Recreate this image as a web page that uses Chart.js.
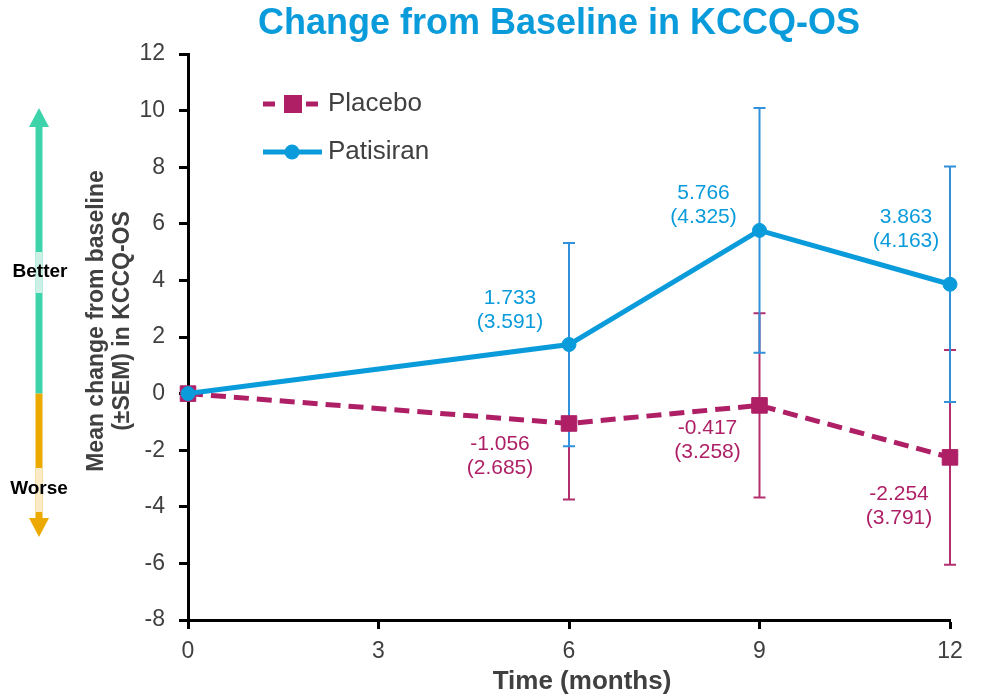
<!DOCTYPE html>
<html>
<head>
<meta charset="utf-8">
<title>Change from Baseline in KCCQ-OS</title>
<script src="https://cdn.jsdelivr.net/npm/chart.js@4.4.1/dist/chart.umd.min.js"></script>
<style>
  html, body { margin: 0; padding: 0; background: #fff; }
  #wrap { width: 986px; height: 698px; }
</style>
</head>
<body>
<div id="wrap"><canvas id="kccq-chart" width="986" height="698"></canvas></div>
<script>
// Values
const months = [0, 6, 9, 12];
const placeboMean = [0, -1.056, -0.417, -2.254];
const placeboSem = [0, 2.685, 3.258, 3.791];
const patisiranMean = [0, 1.733, 5.766, 3.863];
const patisiranSem = [0, 3.591, 4.325, 4.163];
const xTickValues = [0, 3, 6, 9, 12];
const yTickValues = [-8, -6, -4, -2, 0, 2, 4, 6, 8, 10, 12];

// where each value label sits, relative to its point (px)
const placeboLabelOffset = [null, [-69, 33], [-52, 35], [-51, 49]];
const patisiranLabelOffset = [null, [-59, -34], [-56, -25], [-44, -55]];

const BLUE = '#0A9BDB';
const MAGENTA = '#AE1F66';
const GREY = '#404040';
const FONT = '"Liberation Sans", Arial, sans-serif';

// error bars, drawn under the lines
const errorBars = {
  id: 'errorBars',
  beforeDatasetsDraw(chart) {
    const { ctx, scales: { x, y } } = chart;
    const sets = [
      [placeboMean, placeboSem, '#B3306F'],
      [patisiranMean, patisiranSem, '#3191DA']
    ];
    ctx.save();
    ctx.lineWidth = 2;
    sets.forEach(([mean, sem, color]) => {
      ctx.strokeStyle = color;
      months.forEach((m, i) => {
        if (!sem[i]) return;
        const px = x.getPixelForValue(m);
        const top = y.getPixelForValue(mean[i] + sem[i]);
        const bot = y.getPixelForValue(mean[i] - sem[i]);
        ctx.beginPath();
        ctx.moveTo(px, top); ctx.lineTo(px, bot);
        ctx.moveTo(px - 6, top); ctx.lineTo(px + 6, top);
        ctx.moveTo(px - 6, bot); ctx.lineTo(px + 6, bot);
        ctx.stroke();
      });
    });
    ctx.restore();
  }
};

// "mean (SEM)" labels next to points
const valueLabels = {
  id: 'valueLabels',
  afterDatasetsDraw(chart) {
    const { ctx, scales: { x, y } } = chart;
    const sets = [
      [placeboMean, placeboSem, placeboLabelOffset, MAGENTA],
      [patisiranMean, patisiranSem, patisiranLabelOffset, BLUE]
    ];
    ctx.save();
    ctx.font = '21px ' + FONT;
    ctx.textAlign = 'center';
    ctx.textBaseline = 'middle';
    sets.forEach(([mean, sem, off, color]) => {
      ctx.fillStyle = color;
      months.forEach((m, i) => {
        if (!off[i]) return;
        const cx = x.getPixelForValue(m) + off[i][0];
        const cy = y.getPixelForValue(mean[i]) + off[i][1];
        ctx.fillText(mean[i].toFixed(3), cx, cy - 12);
        ctx.fillText('(' + sem[i].toFixed(3) + ')', cx, cy + 12);
      });
    });
    ctx.restore();
  }
};

// titles, Better / Worse arrow and legend
const decorations = {
  id: 'decorations',
  afterDraw(chart) {
    const { ctx, scales: { y } } = chart;
    const y0 = y.getPixelForValue(0);
    const ax = 39;
    ctx.save();

    ctx.fillStyle = BLUE;
    ctx.font = 'bold 36px ' + FONT;
    ctx.textAlign = 'center';
    ctx.textBaseline = 'middle';
    ctx.fillText('Change from Baseline in KCCQ-OS', 559, 24);

    // x-axis title
    ctx.fillStyle = GREY;
    ctx.font = 'bold 26px ' + FONT;
    ctx.fillText('Time (months)', 582, 682);

    // arrow shaft
    ctx.fillStyle = '#3DD3AB';
    ctx.fillRect(ax - 3.5, 125, 7, y0 - 125);
    ctx.fillStyle = '#ECA900';
    ctx.fillRect(ax - 3.5, y0, 7, 519 - y0);
    // faded parts behind the words
    ctx.fillStyle = '#CBF1E6';
    ctx.fillRect(ax - 3.5, 252, 7, 41);
    ctx.fillStyle = '#FAEBC6';
    ctx.fillRect(ax - 3.5, 468, 7, 44);
    // heads
    ctx.fillStyle = '#3DD3AB';
    ctx.beginPath();
    ctx.moveTo(ax, 108); ctx.lineTo(ax + 10, 127); ctx.lineTo(ax - 10, 127);
    ctx.closePath(); ctx.fill();
    ctx.fillStyle = '#ECA900';
    ctx.beginPath();
    ctx.moveTo(ax, 537); ctx.lineTo(ax + 10, 518); ctx.lineTo(ax - 10, 518);
    ctx.closePath(); ctx.fill();

    ctx.fillStyle = '#000';
    ctx.font = 'bold 19px ' + FONT;
    ctx.fillText('Better', 40, 272);
    ctx.fillText('Worse', 39, 489);

    // y-axis title
    ctx.fillStyle = GREY;
    ctx.font = 'bold 23px ' + FONT;
    ctx.translate(97, 321);
    ctx.rotate(-Math.PI / 2);
    ctx.fillText('Mean change from baseline', 0, 0);
    ctx.fillText('(\u00B1SEM) in KCCQ-OS', 0, 26);
    ctx.setTransform(1, 0, 0, 1, 0, 0);

    // legend
    ctx.lineWidth = 5;
    ctx.strokeStyle = MAGENTA;
    ctx.beginPath();
    ctx.moveTo(263, 104); ctx.lineTo(275, 104);
    ctx.moveTo(306, 104); ctx.lineTo(318, 104);
    ctx.stroke();
    ctx.fillStyle = MAGENTA;
    ctx.fillRect(284, 95, 18, 18);

    ctx.strokeStyle = BLUE;
    ctx.beginPath();
    ctx.moveTo(263, 152); ctx.lineTo(322, 152);
    ctx.stroke();
    ctx.fillStyle = BLUE;
    ctx.beginPath();
    ctx.arc(292, 152, 7.5, 0, Math.PI * 2);
    ctx.fill();

    ctx.fillStyle = GREY;
    ctx.font = '26px ' + FONT;
    ctx.textAlign = 'left';
    ctx.fillText('Placebo', 328, 104);
    ctx.fillText('Patisiran', 328, 152);
    ctx.restore();
  }
};

const ctx = document.getElementById('kccq-chart');

new Chart(ctx, {
  type: 'line',
  data: {
    datasets: [{
      label: 'Placebo',
      data: months.map((m, i) => ({ x: m, y: placeboMean[i] })),
      borderColor: MAGENTA,
      backgroundColor: MAGENTA,
      borderWidth: 5,
      borderDash: [15, 8],
      pointStyle: 'rect',
      pointRadius: 11,
      pointBorderWidth: 1,
      pointBorderColor: MAGENTA,
      pointBackgroundColor: MAGENTA,
      tension: 0,
      clip: false,
      order: 1
    }, {
      label: 'Patisiran',
      data: months.map((m, i) => ({ x: m, y: patisiranMean[i] })),
      borderColor: BLUE,
      backgroundColor: BLUE,
      borderWidth: 5,
      pointStyle: 'circle',
      pointRadius: 7,
      pointBorderWidth: 1,
      pointBorderColor: BLUE,
      pointBackgroundColor: BLUE,
      tension: 0,
      clip: false,
      order: 0
    }]
  },
  options: {
    responsive: false,
    animation: false,
    layout: { padding: { left: 70, right: 36, top: 54, bottom: 0 } },
    scales: {
      x: {
        type: 'linear',
        min: 0,
        max: 12,
        afterBuildTicks: (scale) => { scale.ticks = xTickValues.map(v => ({ value: v })); },
        afterFit: (scale) => { scale.height = 78; },
        ticks: { color: GREY, font: { family: FONT, size: 23 }, padding: 9 },
        grid: { display: true, drawOnChartArea: false, drawTicks: true, tickLength: 9, tickWidth: 3, tickColor: '#000' },
        border: { display: true, color: '#000', width: 3 }
      },
      y: {
        type: 'linear',
        min: -8,
        max: 12,
        afterBuildTicks: (scale) => { scale.ticks = yTickValues.map(v => ({ value: v })); },
        afterFit: (scale) => { scale.width = 118; },
        ticks: { color: GREY, font: { family: FONT, size: 23 }, padding: 14 },
        grid: { display: true, drawOnChartArea: false, drawTicks: true, tickLength: 9, tickWidth: 3, tickColor: '#000' },
        border: { display: true, color: '#000', width: 3 }
      }
    },
    plugins: {
      legend: { display: false },
      tooltip: { enabled: false },
      title: { display: false }
    }
  },
  plugins: [errorBars, valueLabels, decorations]
});
</script>
</body>
</html>
